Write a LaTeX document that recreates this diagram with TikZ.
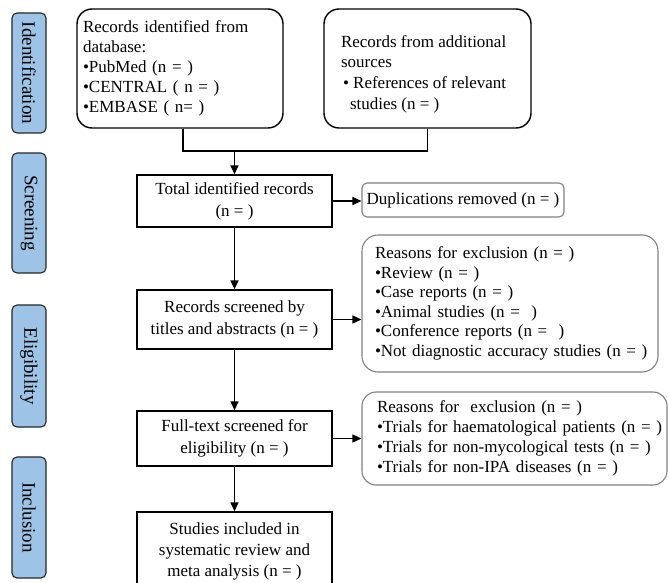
\documentclass[tikz,border=0pt]{standalone}
\usepackage{fontspec}
\setmainfont{Liberation Serif}
\usetikzlibrary{arrows.meta}
\definecolor{sideblue}{HTML}{9DC3E6}
\definecolor{boxgray}{HTML}{808080}
\begin{document}
\begin{tikzpicture}[x=1pt,y=-1pt,
  side/.style={draw=black!85, fill=sideblue, rounded corners=5pt, line width=1.1pt, rotate=-90,
    minimum height=34pt, inner sep=0pt, font=\fontsize{19}{22}\selectfont},
  mainbox/.style={draw, line width=1.4pt, minimum width=195pt, inner sep=0pt, align=center,
    font=\fontsize{17}{22}\selectfont},
  topbox/.style={draw, line width=1.4pt, rounded corners=15pt, minimum height=119pt,
    inner ysep=0pt, font=\fontsize{17}{20}\selectfont},
  graybox/.style={draw=boxgray, line width=1.1pt, inner ysep=0pt, font=\fontsize{17}{19.5}\selectfont},
  conn/.style={line width=1.5pt},
  arr/.style={conn, -{Triangle[length=9pt,width=8pt]}}
]
\useasboundingbox (0,0) rectangle (669,583);

% side labels
\node[side, minimum width=120pt] (s1) at (29,73) {Identification};
\node[side, minimum width=120pt] (s2) at (29,213) {Screening};
\node[side, minimum width=122pt] (s3) at (29,366) {Eligibility};
\node[side, minimum width=121pt] (s4) at (29,517.5) {Inclusion};

% top boxes
\node[topbox, text width=194pt, inner xsep=6pt, align=left] (lb) at (180,68.5)
  {Records identified from\\database:\\•PubMed (n = )\\•CENTRAL ( n = )\\•EMBASE ( n= )};
\node[topbox, inner xsep=17pt, minimum width=207pt, font=\fontsize{17}{20.7}\selectfont] (rb) at (427.5,68.5)
  {\parbox{173pt}{\vspace*{11pt}Records from additional\\sources\\\hspace*{2pt}• References of relevant\\\hspace*{9pt}studies (n = )}};

% main column
\node[mainbox, minimum height=52pt] (total) at (234.5,201) {Total identified records\\(n = )};
\node[mainbox, minimum height=59pt] (scr) at (234.5,319.5) {Records screened by\\titles and abstracts (n = )};
\node[mainbox, minimum height=55pt] (ft) at (234.5,438.5) {Full-text screened for\\eligibility (n = )};
\node[mainbox, minimum height=78pt, font=\fontsize{17}{21}\selectfont] (st) at (234.5,551) {Studies included in\\systematic review and\\meta analysis (n = )};

% right boxes
\node[graybox, rounded corners=5pt, minimum width=202pt, minimum height=34pt, inner xsep=0pt] (dup) at (463,200)
  {Duplications removed (n = )};
\node[graybox, rounded corners=16pt, minimum width=296pt, minimum height=137pt, text width=270pt, inner xsep=13pt, align=left] (r1) at (510,303.5)
  {Reasons for exclusion (n = )\\•Review (n = )\\•Case reports (n = )\\•Animal studies (n = \ )\\•Conference reports (n = \ )\\\mbox{•Not diagnostic accuracy studies (n = )}};
\node[graybox, rounded corners=14pt, minimum width=305pt, minimum height=93pt, text width=275pt, inner xsep=15pt, align=left, font=\fontsize{17}{20}\selectfont] (r2) at (514.5,438.5)
  {Reasons for\ \ exclusion (n = )\\\mbox{•Trials for haematological patients (n = )}\\•Trials for non-mycological tests (n = )\\•Trials for non-IPA diseases (n = )};

% connectors
\coordinate (j) at (234.5,151);
\draw[conn] ([xshift=3pt]lb.south) |- (j) -| (rb.south);
\draw[arr] (j) -- (total);
\draw[arr] (total) -- (scr);
\draw[arr] (scr) -- (ft);
\draw[arr] (ft) -- (st);
\draw[arr] (total.east) -- (total.east -| dup.west);
\draw[arr] (scr.east) -- (scr.east -| r1.west);
\draw[arr] (ft.east) -- (ft.east -| r2.west);
\end{tikzpicture}
\end{document}
